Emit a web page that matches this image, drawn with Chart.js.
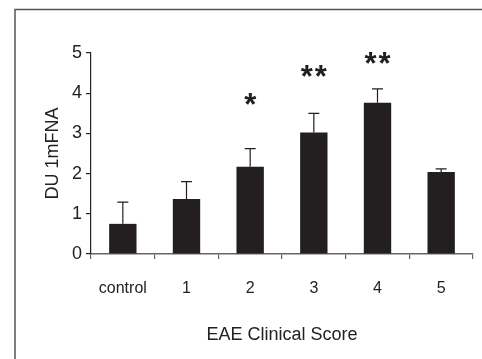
<!DOCTYPE html>
<html>
<head>
<meta charset="utf-8">
<script src="https://cdn.jsdelivr.net/npm/chart.js@4"></script>
<style>
html,body{margin:0;padding:0;background:#fff;}
#wrap{width:482px;height:359px;position:relative;}
</style>
</head>
<body>
<div id="wrap"><canvas id="c" width="482" height="359"></canvas></div>
<script>
const categories = ['control', '1', '2', '3', '4', '5'];
const means = [0.75, 1.37, 2.17, 3.02, 3.76, 2.04];
const errorsUp = [0.54, 0.43, 0.45, 0.48, 0.35, 0.08];
const significance = ['', '', '*', '**', '**', ''];
const significanceLevel = [null, null, 3.84, 4.55, 4.86, null];
const yTicks = [0, 1, 2, 3, 4, 5];

const FONT = '"Liberation Sans", Arial, Helvetica, sans-serif';
const BAR = '#231f20';

const framePlugin = {
  id: 'frame',
  beforeDraw(chart) {
    const ctx = chart.ctx;
    ctx.save();
    ctx.fillStyle = '#fff';
    ctx.fillRect(0, 0, chart.width, chart.height);
    ctx.strokeStyle = '#555';
    ctx.lineWidth = 1.5;
    ctx.beginPath();
    ctx.moveTo(15, chart.height + 5);
    ctx.lineTo(15, 9.5);
    ctx.lineTo(chart.width + 5, 9.5);
    ctx.stroke();
    ctx.restore();
  }
};

const errorPlugin = {
  id: 'errorbars',
  afterDatasetsDraw(chart) {
    const ctx = chart.ctx;
    const y = chart.scales.y;
    const meta = chart.getDatasetMeta(0);
    ctx.save();
    ctx.strokeStyle = BAR;
    ctx.lineWidth = 1.2;
    meta.data.forEach((bar, i) => {
      const top = y.getPixelForValue(means[i] + errorsUp[i]);
      ctx.beginPath();
      ctx.moveTo(bar.x, bar.y);
      ctx.lineTo(bar.x, top);
      ctx.moveTo(bar.x - 5.5, top);
      ctx.lineTo(bar.x + 5.5, top);
      ctx.stroke();
      const s = significance[i];
      if (s) {
        const size = 31;
        ctx.fillStyle = BAR;
        ctx.font = 'bold ' + size + 'px ' + FONT;
        ctx.textAlign = 'center';
        ctx.textBaseline = 'alphabetic';
        const cy = y.getPixelForValue(significanceLevel[i]);
        const step = 14;
        const x0 = bar.x - (s.length - 1) * step / 2;
        for (let k = 0; k < s.length; k++) {
          ctx.fillText(s[k], x0 + k * step, cy + 0.5 * size);
        }
      }
    });
    ctx.restore();
  }
};

new Chart(document.getElementById('c'), {
  type: 'bar',
  data: {
    labels: categories,
    datasets: [{
      data: means,
      backgroundColor: BAR,
      borderWidth: 0,
      barPercentage: 0.43,
      categoryPercentage: 1.0
    }]
  },
  options: {
    responsive: false,
    animation: false,
    events: [],
    layout: { padding: { top: 53, right: 9, left: 0, bottom: 0 } },
    plugins: { legend: { display: false }, tooltip: { enabled: false } },
    scales: {
      x: {
        afterFit(s) { s.height = 105; },
        border: { display: true, color: '#666', width: 1.5 },
        grid: { display: true, drawOnChartArea: false, drawTicks: true, tickLength: 5, color: '#666', lineWidth: 1.2, offset: true },
        ticks: { color: '#222', font: { family: FONT, size: 16 }, padding: 20 },
        title: { display: true, text: 'EAE Clinical Score', color: '#222', font: { family: FONT, size: 18 }, padding: { top: 0, bottom: 13 } }
      },
      y: {
        min: 0, max: 5,
        afterFit(s) { s.width = 91; },
        afterBuildTicks(s) { s.ticks = yTicks.map(v => ({ value: v })); },
        border: { display: true, color: '#222', width: 1.2 },
        grid: { display: true, drawOnChartArea: false, drawTicks: true, tickLength: 5, color: '#222', lineWidth: 1.2 },
        ticks: { color: '#222', font: { family: FONT, size: 18 }, padding: 4 },
        title: { display: true, text: 'DU 1mFNA', color: '#222', font: { family: FONT, size: 18 }, padding: { top: 42, bottom: 0 } }
      }
    }
  },
  plugins: [framePlugin, errorPlugin]
});
</script>
</body>
</html>
